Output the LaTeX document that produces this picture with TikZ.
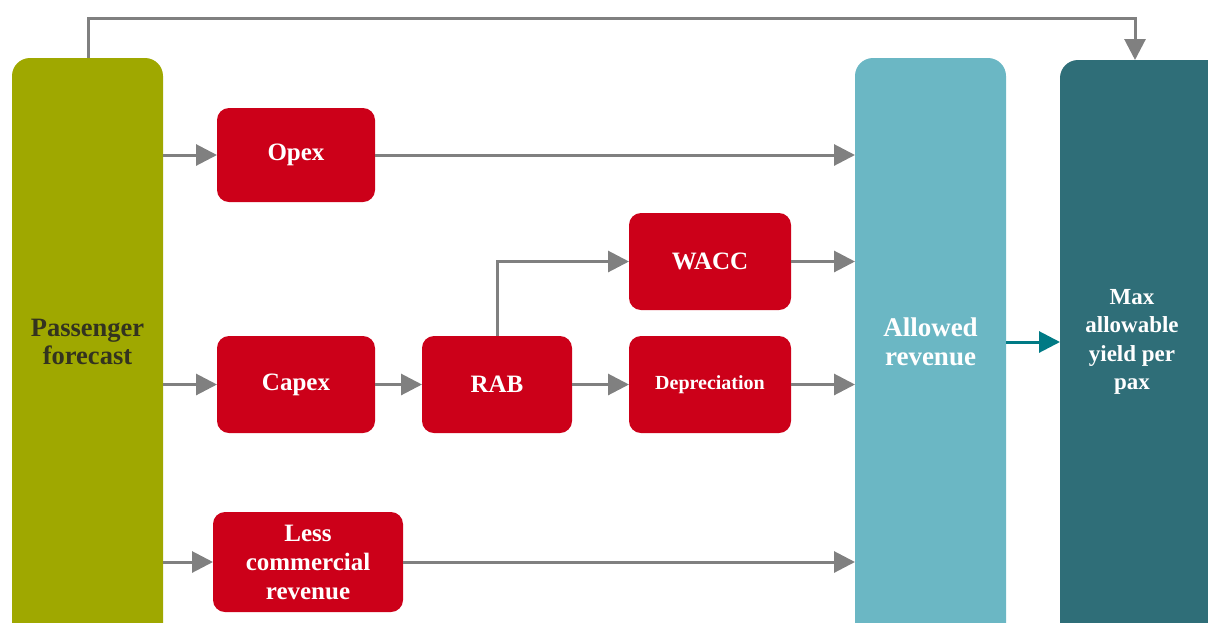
\documentclass[tikz,border=0pt]{standalone}
\usepackage{fontspec}
\setmainfont{Liberation Serif}
\usetikzlibrary{arrows.meta}
\definecolor{pfgreen}{HTML}{9FA800}
\definecolor{boxred}{HTML}{CC0019}
\definecolor{arblue}{HTML}{6BB7C4}
\definecolor{maxteal}{HTML}{2F6E78}
\definecolor{arrgray}{HTML}{808080}
\definecolor{tealarr}{HTML}{007A85}
\definecolor{darktext}{HTML}{33331F}
\tikzset{
  bigbox/.style={draw=none, inner sep=0pt, outer sep=0pt, rounded corners=18pt},
  redbox/.style={fill=boxred, draw=none, inner sep=0pt, outer sep=0pt, rounded corners=12pt,
    text=white, font=\bfseries\fontsize{25}{29}\selectfont, align=center},
  lbl/.style={inner sep=0pt, align=center, font=\bfseries\fontsize{26.5}{28.5}\selectfont},
  arr/.style={draw=arrgray, line width=3pt, -{Triangle[length=21pt,width=21pt]}},
  tarr/.style={draw=tealarr, line width=3pt, -{Triangle[length=21pt,width=21pt]}}
}
\begin{document}
\begin{tikzpicture}[x=1pt,y=-1pt]
\useasboundingbox (0,0) rectangle (1208,622);
\begin{scope}
\clip (0,0) rectangle (1208,622);
\node[bigbox, fill=pfgreen, minimum width=151pt, minimum height=642pt] (pf) at (87.5,379) {};
\node[bigbox, fill=arblue, minimum width=151pt, minimum height=642pt] (ar) at (930.5,379) {};
\node[bigbox, fill=maxteal, minimum width=180pt, minimum height=640pt] (mx) at (1150,380) {};
\end{scope}
\node[lbl, text=darktext] (pft) at (87.5,342) {Passenger\\forecast};
\node[lbl, text=white, font=\bfseries\fontsize{27}{28.5}\selectfont] (art) at (930.5,342) {Allowed\\revenue};
\node[lbl, text=white, font=\bfseries\fontsize{23}{28.5}\selectfont] (mxt) at (1132,342) {Max\\allowable\\yield per\\pax};

\node[redbox, minimum width=158pt, minimum height=94pt] (opex) at (296,155) {Opex};
\node[redbox, minimum width=162pt, minimum height=97pt] (wacc) at (710,261.5) {WACC};
\node[redbox, minimum width=158pt, minimum height=97pt] (capex) at (296,384.5) {Capex};
\node[redbox, minimum width=150pt, minimum height=97pt] (rab) at (497,384.5) {RAB};
\node[redbox, minimum width=162pt, minimum height=97pt, font=\bfseries\fontsize{20}{24}\selectfont] (dep) at (710,384.5) {Depreciation};
\node[redbox, minimum width=190pt, minimum height=100pt, font=\bfseries\fontsize{25}{29}\selectfont] (less) at (308,562) {Less\\commercial\\revenue};

\coordinate (topL) at (88,18);
\coordinate (topR) at (1135,18);
\draw[arr] (pf.north -| topL) -- (topL) -- (topR) -- (mx.north -| topR);
\draw[arr] (pf.east |- opex) -- (opex.west);
\draw[arr] (opex.east) -- (ar.west |- opex.east);
\draw[arr] (pf.east |- capex) -- (capex.west);
\draw[arr] (capex) -- (rab);
\draw[arr] (rab) -- (dep);
\draw[arr] (rab.north) |- (wacc.west);
\draw[arr] (wacc) -- (ar.west |- wacc);
\draw[arr] (dep) -- (ar.west |- dep);
\draw[arr] (pf.east |- less) -- (less.west);
\draw[arr] (less.east) -- (ar.west |- less);
\draw[tarr] (ar.east |- art) -- (mx.west |- art);
\end{tikzpicture}
\end{document}
